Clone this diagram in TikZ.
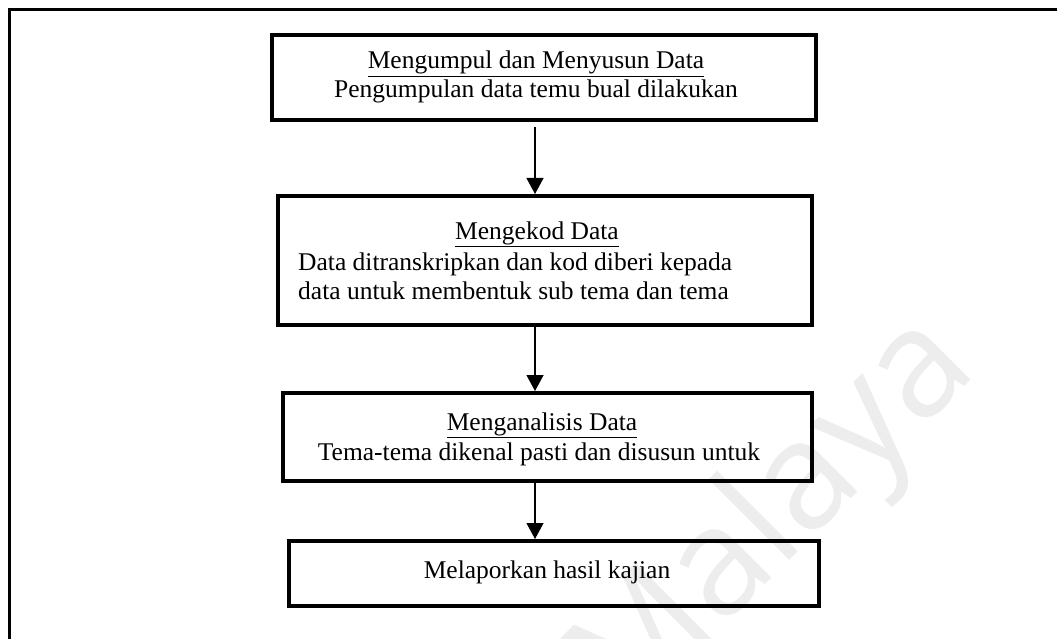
\documentclass[tikz,border=0pt]{standalone}
\usepackage{fontspec}
\setmainfont{Liberation Serif}
\newfontfamily\wmfont{Open Sans}
\usetikzlibrary{arrows.meta}
\begin{document}
\begin{tikzpicture}[x=1pt,y=-1pt,
  stepbox/.style={draw, line width=4pt, inner sep=0pt},
  txt/.style={anchor=base, inner sep=0pt, font=\fontsize{25.5}{30}\selectfont},
  txtl/.style={anchor=base west, inner sep=0pt, font=\fontsize{25.5}{30}\selectfont},
  arr/.style={-{Triangle[width=17pt,length=16pt]}, line width=1.2pt},
  frame/.style={line width=3.5pt}]
\useasboundingbox (0,0) rectangle (1057,639);
\clip (0,0) rectangle (1057,639);
\fill[white] (0,0) rectangle (1057,639);
% watermark
\node[rotate=45, text=black!7, font=\wmfont\fontsize{150}{150}\selectfont, inner sep=0pt] (wm) at (775,520) {Malaya};
% outer frame (cut off at right and bottom)
\draw[frame] (9.5,700) |- (1100,9.5);
% boxes
\node[stepbox, minimum width=544pt, minimum height=85pt] (b1) at (544,77.5) {};
\node[stepbox, minimum width=534pt, minimum height=129pt] (b2) at (545,260.5) {};
\node[stepbox, minimum width=529pt, minimum height=88pt] (b3) at (547.5,437) {};
\node[stepbox, minimum width=530pt, minimum height=65pt] (b4) at (554,573.5) {};
% texts
\node[txt] (t1a) at (536,69) {\underline{Mengumpul dan Menyusun Data}};
\node[txt] (t1b) at (536,98) {Pengumpulan data temu bual dilakukan};
\node[txt] (t2a) at (537,239) {\underline{Mengekod Data}};
\node[txtl] (t2b) at (298,270) {Data ditranskripkan dan kod diberi kepada};
\node[txtl] (t2c) at (298,299) {data untuk membentuk sub tema dan tema};
\node[txt] (t3a) at (542,430) {\underline{Menganalisis Data}};
\node[txt] (t3b) at (539,460) {Tema-tema dikenal pasti dan disusun untuk};
\node[txt] (t4) at (547,578) {Melaporkan hasil kajian};
% arrows
\coordinate (ax) at (535,0);
\draw[arr, shorten <=5pt] (b1.south -| ax) -- (b2.north -| ax);
\draw[arr] (b2.south -| ax) -- (b3.north -| ax);
\draw[arr] (b3.south -| ax) -- (b4.north -| ax);
\end{tikzpicture}
\end{document}
